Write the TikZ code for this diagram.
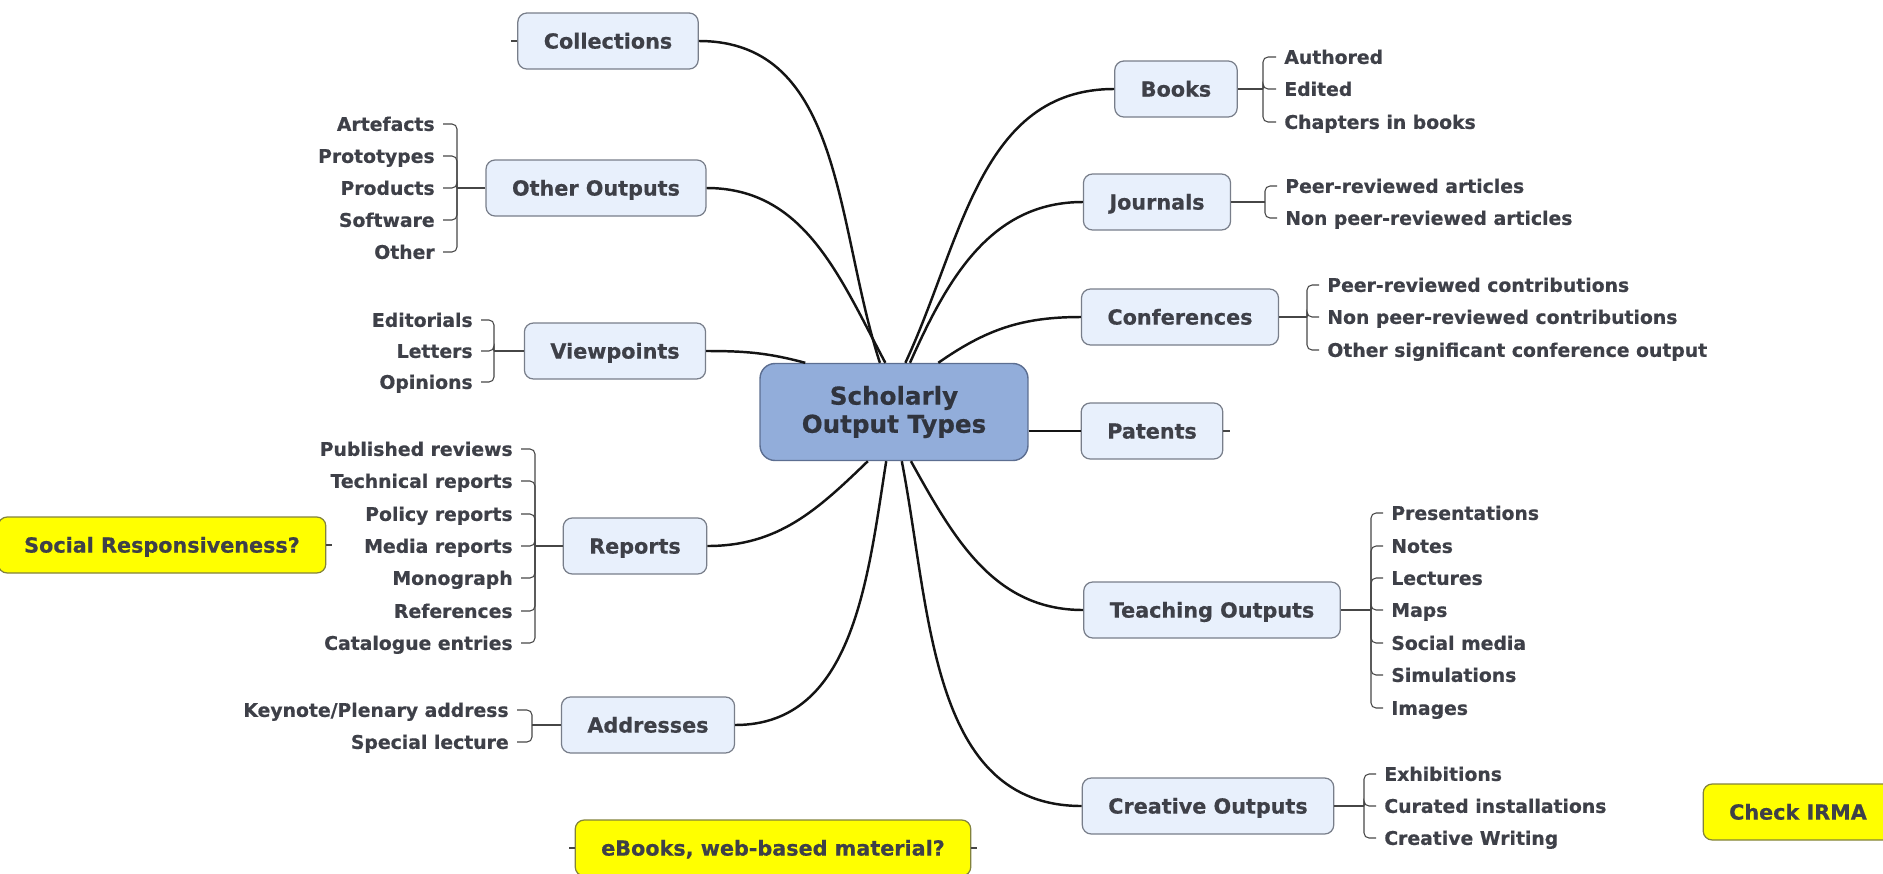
\documentclass[tikz,border=0pt]{standalone}
\usepackage{fontspec}
\setmainfont{DejaVu Sans}[BoldFeatures={FakeBold=0.6}]

\begin{document}
\begin{tikzpicture}[x = 0.02cm, y = -0.02cm,
						main link/.style={line width = 1.4pt, draw = linkBlack},
						twig/.style={line width = 0.6pt, draw = twigGray, rounded corners = 0.1cm},
						branch box/.style={draw = boxBorder, fill = boxFill, line width = 0.7pt,
							rounded corners = 0.18cm, minimum height = 1.12cm, inner xsep = 0.52cm,
							text = inkGray, font = \fontsize{11.8}{14}\selectfont\bfseries,
							text height = 10pt, text depth = 1.4pt},
						core box/.style={draw = coreBorder, fill = coreFill, line width = 0.8pt,
							rounded corners = 0.3cm, minimum width = 5.36cm, minimum height = 1.94cm,
							align = center, text = coreInk, font = \fontsize{14}{16}\selectfont\bfseries},
						note box/.style={branch box, draw = noteBorder, fill = noteFill},
						leaf left/.style={anchor = east, inner xsep = 0.16cm, inner ysep = 0pt,
							text = inkGray, font = \fontsize{10.7}{12}\selectfont\bfseries,
							text height = 9pt, text depth = 1.2pt},
						leaf right/.style={leaf left, anchor = west},
						]
	
		\definecolor{boxFill}{RGB}{232,240,252}
		\definecolor{boxBorder}{RGB}{120,126,138}
		\definecolor{coreFill}{RGB}{146,173,218}
		\definecolor{coreBorder}{RGB}{92,110,145}
		\definecolor{coreInk}{RGB}{48,52,62}
		\definecolor{inkGray}{RGB}{62,64,72}
		\definecolor{noteFill}{RGB}{255,255,0}
		\definecolor{noteBorder}{RGB}{130,130,60}
		\definecolor{linkBlack}{RGB}{20,20,20}
		\definecolor{twigGray}{RGB}{70,70,70}
		
		\useasboundingbox (0, 0) rectangle (1883, 873);
		
		% Central topic
		\node[core box] (core) at (894, 412) {Scholarly\\Output Types};
		
		% Branches on the left
		\node[branch box] (collections) at (608, 41) {Collections};
		\node[branch box] (otherOutputs) at (596, 188) {Other Outputs};
		\node[branch box] (viewpoints) at (615, 351) {Viewpoints};
		\node[branch box] (reports) at (635, 546) {Reports};
		\node[branch box] (addresses) at (648, 725) {Addresses};
		
		% Branches on the right
		\node[branch box] (books) at (1176, 89) {Books};
		\node[branch box] (journals) at (1157, 202) {Journals};
		\node[branch box] (conferences) at (1180, 317) {Conferences};
		\node[branch box] (patents) at (1152, 431) {Patents};
		\node[branch box] (teaching) at (1212, 610) {Teaching Outputs};
		\node[branch box] (creative) at (1208, 806) {Creative Outputs};
		
		% Floating notes
		\node[note box] (socialResp) at (162, 545) {Social Responsiveness?};
		\node[note box] (eBooks) at (773, 848) {eBooks, web-based material?};
		\node[note box] (checkIrma) at (1798, 812) {Check IRMA};
		
		% Main links
		\draw[main link] (core.106) to[out = 108, in = 0] (collections.east);
		\draw[main link] (core.100) to[out = 118, in = 0] (otherOutputs.east);
		\draw[main link] (core.151) to[out = 165, in = 0] (viewpoints.east);
		\draw[main link] (core.242) to[out = -136, in = 0] (reports.east);
		\draw[main link] (core.261) to[out = -99, in = 0] (addresses.east);
		\draw[main link] (core.77) to[out = 65, in = 180] (books.west);
		\draw[main link] (core.72) to[out = 66, in = 180] (journals.west);
		\draw[main link] (core.48) to[out = 35, in = 180] (conferences.west);
		\draw[main link] (core.east |- patents.west) -- (patents.west);
		\draw[main link] (core.289) to[out = -61, in = 180] (teaching.west);
		\draw[main link] (core.279) to[out = -79, in = 180] (creative.west);
		
		% Other Outputs leaves
		\node[leaf left] (artefacts) at (443, 124) {Artefacts};
		\node[leaf left] (prototypes) at (443, 156) {Prototypes};
		\node[leaf left] (products) at (443, 188) {Products};
		\node[leaf left] (software) at (443, 220) {Software};
		\node[leaf left] (other) at (443, 252) {Other};
		\coordinate (otherSpine) at (457, 188);
		\draw[twig] (otherOutputs.west) -- (otherSpine);
		\draw[twig] (otherSpine) |- (artefacts.east);
		\draw[twig] (otherSpine) |- (prototypes.east);
		\draw[twig] (otherSpine) |- (products.east);
		\draw[twig] (otherSpine) |- (software.east);
		\draw[twig] (otherSpine) |- (other.east);
		
		% Viewpoints leaves
		\node[leaf left] (editorials) at (481, 320) {Editorials};
		\node[leaf left] (letters) at (481, 351) {Letters};
		\node[leaf left] (opinions) at (481, 382) {Opinions};
		\coordinate (viewSpine) at (494, 351);
		\draw[twig] (viewpoints.west) -- (viewSpine);
		\draw[twig] (viewSpine) |- (editorials.east);
		\draw[twig] (viewSpine) |- (letters.east);
		\draw[twig] (viewSpine) |- (opinions.east);
		
		% Reports leaves
		\node[leaf left] (published) at (521, 449) {Published reviews};
		\node[leaf left] (technical) at (521, 481) {Technical reports};
		\node[leaf left] (policy) at (521, 514) {Policy reports};
		\node[leaf left] (media) at (521, 546) {Media reports};
		\node[leaf left] (monograph) at (521, 578) {Monograph};
		\node[leaf left] (references) at (521, 611) {References};
		\node[leaf left] (catalogue) at (521, 643) {Catalogue entries};
		\coordinate (reportSpine) at (535, 546);
		\draw[twig] (reports.west) -- (reportSpine);
		\draw[twig] (reportSpine) |- (published.east);
		\draw[twig] (reportSpine) |- (technical.east);
		\draw[twig] (reportSpine) |- (policy.east);
		\draw[twig] (reportSpine) |- (media.east);
		\draw[twig] (reportSpine) |- (monograph.east);
		\draw[twig] (reportSpine) |- (references.east);
		\draw[twig] (reportSpine) |- (catalogue.east);
		
		% Addresses leaves
		\node[leaf left] (keynote) at (517, 710) {Keynote/Plenary address};
		\node[leaf left] (special) at (517, 742) {Special lecture};
		\coordinate (addressSpine) at (532, 725);
		\draw[twig] (addresses.west) -- (addressSpine);
		\draw[twig] (addressSpine) |- (keynote.east);
		\draw[twig] (addressSpine) |- (special.east);
		
		% Books leaves
		\node[leaf right] (authored) at (1276, 57) {Authored};
		\node[leaf right] (edited) at (1276, 89) {Edited};
		\node[leaf right] (chapters) at (1276, 122) {Chapters in books};
		\coordinate (bookSpine) at (1263, 89);
		\draw[twig] (books.east) -- (bookSpine);
		\draw[twig] (bookSpine) |- (authored.west);
		\draw[twig] (bookSpine) |- (edited.west);
		\draw[twig] (bookSpine) |- (chapters.west);
		
		% Journals leaves
		\node[leaf right] (peerArticles) at (1277, 186) {Peer-reviewed articles};
		\node[leaf right] (nonPeerArticles) at (1277, 218) {Non peer-reviewed articles};
		\coordinate (journalSpine) at (1265, 202);
		\draw[twig] (journals.east) -- (journalSpine);
		\draw[twig] (journalSpine) |- (peerArticles.west);
		\draw[twig] (journalSpine) |- (nonPeerArticles.west);
		
		% Conferences leaves
		\node[leaf right] (peerContrib) at (1319, 285) {Peer-reviewed contributions};
		\node[leaf right] (nonPeerContrib) at (1319, 317) {Non peer-reviewed contributions};
		\node[leaf right] (otherConf) at (1319, 350) {Other significant conference output};
		\coordinate (confSpine) at (1307, 317);
		\draw[twig] (conferences.east) -- (confSpine);
		\draw[twig] (confSpine) |- (peerContrib.west);
		\draw[twig] (confSpine) |- (nonPeerContrib.west);
		\draw[twig] (confSpine) |- (otherConf.west);
		
		% Teaching Outputs leaves
		\node[leaf right] (presentations) at (1383, 513) {Presentations};
		\node[leaf right] (notes) at (1383, 546) {Notes};
		\node[leaf right] (lectures) at (1383, 578) {Lectures};
		\node[leaf right] (maps) at (1383, 610) {Maps};
		\node[leaf right] (socialMedia) at (1383, 643) {Social media};
		\node[leaf right] (simulations) at (1383, 675) {Simulations};
		\node[leaf right] (images) at (1383, 708) {Images};
		\coordinate (teachSpine) at (1371, 610);
		\draw[twig] (teaching.east) -- (teachSpine);
		\draw[twig] (teachSpine) |- (presentations.west);
		\draw[twig] (teachSpine) |- (notes.west);
		\draw[twig] (teachSpine) |- (lectures.west);
		\draw[twig] (teachSpine) |- (maps.west);
		\draw[twig] (teachSpine) |- (socialMedia.west);
		\draw[twig] (teachSpine) |- (simulations.west);
		\draw[twig] (teachSpine) |- (images.west);
		
		% Creative Outputs leaves
		\node[leaf right] (exhibitions) at (1376, 774) {Exhibitions};
		\node[leaf right] (curated) at (1376, 806) {Curated installations};
		\node[leaf right] (writing) at (1376, 838) {Creative Writing};
		\coordinate (creativeSpine) at (1364, 806);
		\draw[twig] (creative.east) -- (creativeSpine);
		\draw[twig] (creativeSpine) |- (exhibitions.west);
		\draw[twig] (creativeSpine) |- (curated.west);
		\draw[twig] (creativeSpine) |- (writing.west);
		
		% Little stubs of unattached topics
		\draw[twig] (collections.west) -- ++(-6, 0);
		\draw[twig] (patents.east) -- ++(7, 0);
		\draw[twig] (socialResp.west) -- ++(-6, 0);
		\draw[twig] (socialResp.east) -- ++(6, 0);
		\draw[twig] (eBooks.west) -- ++(-6, 0);
		\draw[twig] (eBooks.east) -- ++(6, 0);
		
	\end{tikzpicture}
\end{document}
